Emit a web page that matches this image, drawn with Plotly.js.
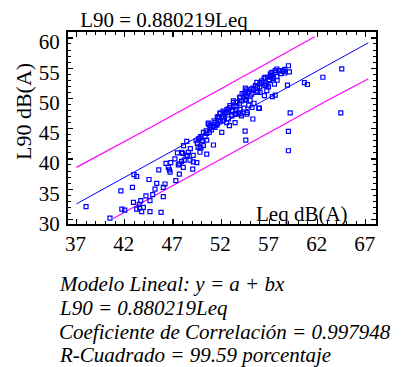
<!DOCTYPE html>
<html>
<head>
<meta charset="utf-8">
<script src="https://cdn.plot.ly/plotly-3.0.1.min.js"></script>
<style>html,body{margin:0;padding:0;background:#fff;}#chart{width:410px;height:367px;}</style>
</head>
<body>
<div id="chart"></div>
<script>
// Observed data: Leq dB(A) (x) vs L90 dB(A) (y)
const leq = [37.99,40.47,41.6,41.7,42.0,42.8,42.9,42.96,43.24,43.24,43.5,43.55,43.66,43.76,43.93,44.2,44.52,44.62,44.62,44.9,
45.14,45.32,45.53,45.77,46.0,46.0,46.18,46.28,46.52,46.63,46.7,46.77,47.2,47.3,47.46,47.56,47.66,47.7,47.9,47.9,
48.0,48.07,48.1,48.17,48.36,48.43,48.5,48.6,48.77,48.8,49.05,49.1,49.1,49.4,49.47,49.53,49.6,49.65,49.8,49.8,
49.8,49.88,49.9,50.0,50.09,50.15,50.5,50.16,50.33,50.43,50.5,50.5,50.67,50.67,50.77,50.85,50.85,51.0,51.2,51.2,
51.26,51.36,51.37,51.53,51.6,51.6,51.7,51.8,51.88,51.9,51.9,52.06,52.06,52.16,52.2,52.23,52.23,52.4,52.4,52.57,
52.58,52.6,52.75,52.75,52.85,52.9,52.9,53.1,53.1,53.1,53.2,53.27,53.27,53.44,53.44,53.44,53.5,53.6,53.62,53.77,
53.8,53.9,53.9,53.94,53.96,53.96,54.1,54.1,54.17,54.35,54.37,54.48,54.48,54.5,54.5,54.55,54.6,54.65,54.65,54.66,
54.7,54.82,54.86,55.0,55.0,55.1,55.17,55.2,55.28,55.3,55.34,55.4,55.55,55.7,55.7,55.76,55.8,55.9,55.96,56.0,
56.0,56.03,56.2,56.2,56.45,56.48,56.55,56.56,56.56,56.73,56.73,56.8,56.9,56.98,57.0,57.1,57.1,57.25,57.25,57.3,
57.4,57.4,57.52,57.6,57.6,57.6,57.77,57.77,57.8,58.0,58.1,58.2,58.4,58.45,58.6,58.6,58.87,58.97,58.97,58.97,
59.07,59.15,60.63,60.94,62.54,64.5,64.4];
const l90 = [32.1,30.2,34.7,31.7,31.55,35.3,32.8,37.4,37.1,31.7,32.5,31.9,33.1,31.3,32.0,33.9,36.6,33.1,31.3,34.1,
35.0,35.95,38.2,31.15,35.3,33.75,35.85,39.25,38.6,38.2,37.8,39.4,40.0,36.4,41.0,39.0,37.5,39.2,39.6,41.1,
40.9,38.6,42.2,39.8,40.4,42.9,40.6,41.1,39.8,41.7,38.3,39.5,40.6,43.0,39.4,42.6,41.9,43.3,43.45,41.1,
42.0,43.7,41.8,43.0,43.0,42.2,40.8,44.4,43.7,44.65,44.2,43.1,45.9,45.75,44.4,45.5,45.2,44.8,42.3,45.4,
46.3,45.2,46.0,45.6,46.9,45.8,47.0,46.8,47.5,46.3,47.6,44.4,47.0,46.3,47.9,46.95,46.6,47.7,47.45,46.0,
47.7,48.2,46.6,48.25,45.5,48.8,48.5,47.1,48.0,47.3,47.9,49.6,49.3,46.0,48.8,47.45,47.4,49.35,48.6,47.5,
47.6,49.2,50.1,48.2,50.2,47.45,47.1,49.6,50.8,48.4,50.6,44.6,49.7,51.0,51.7,43.1,49.85,51.4,50.2,47.4,
47.7,51.1,48.9,49.7,50.4,51.55,50.7,48.5,46.6,51.7,51.4,49.2,52.1,51.0,52.65,51.8,51.2,48.4,48.35,52.4,
51.9,51.0,52.6,52.9,53.3,50.45,52.1,53.5,52.4,51.3,52.2,53.5,51.9,53.1,52.95,54.05,53.8,53.6,54.3,50.3,
53.3,53.4,52.35,54.3,50.55,54.6,54.86,53.6,53.0,54.6,54.6,54.1,54.5,54.5,54.2,54.8,52.2,55.4,44.55,41.35,
54.4,47.6,52.6,52.3,53.5,54.9,47.6];

// Fitted model line (L90 = 0.880219 Leq) and prediction limits
const fitX = [37, 67.26];
const fitY = [32.57, 59.2];
const upperX = [37, 41.2, 44, 52, 58, 61.7];
const upperY = [38.6, 42.2, 44.6, 51.6, 56.95, 60.2];
const lowerX = [40.8, 46, 52, 58, 63, 67.26];
const lowerY = [30.15, 34.75, 40.05, 45.35, 49.65, 53.25];

const xTicks = {tick0: 37, dtick: 5};
const yTicks = {tick0: 30, dtick: 5};

const serif = '"Liberation Serif", "Times New Roman", Times, serif';

const traces = [
  {x: upperX, y: upperY, mode: 'lines', line: {color: '#ff00ff', width: 1.2}, hoverinfo: 'skip'},
  {x: lowerX, y: lowerY, mode: 'lines', line: {color: '#ff00ff', width: 1.2}, hoverinfo: 'skip'},
  {x: fitX, y: fitY, mode: 'lines', line: {color: '#0000ff', width: 1}, hoverinfo: 'skip'},
  {x: leq, y: l90, mode: 'markers', marker: {symbol: 'square-open', size: 4, color: '#0000ff', line: {width: 1.2, color: '#0000ff'}}}
];

const W = 410, H = 367, L = 68, R = 34, T = 32, B = 143;
const pw = W - L - R, ph = H - T - B;
const px = v => (v - L) / pw;
const py = v => (H - B - v) / ph;

const footer = [
  'Modelo Lineal: y = a + bx',
  'L90 = 0.880219Leq',
  'Coeficiente de Correlación = 0.997948',
  'R-Cuadrado = 99.59 porcentaje'
];
const footerY = [284, 308, 332, 355];

const annotations = footer.map((t, i) => ({
  text: '<i>' + t + '</i>', xref: 'paper', yref: 'paper', x: px(57), y: py(footerY[i]),
  xanchor: 'left', yanchor: 'middle', showarrow: false, font: {family: serif, size: 21, color: '#000'}
}));
annotations.push({
  text: 'L90 dB(A)', xref: 'paper', yref: 'paper', x: px(23), y: py(112), textangle: -90,
  xanchor: 'center', yanchor: 'middle', showarrow: false, font: {family: serif, size: 22, color: '#000'}
});
annotations.push({
  text: 'Leq dB(A)', xref: 'paper', yref: 'paper', x: px(302), y: py(214),
  xanchor: 'center', yanchor: 'middle', showarrow: false, font: {family: serif, size: 21, color: '#000'}
});

const layout = {
  width: W, height: H,
  margin: {l: L, r: R, t: T, b: B, pad: 0},
  paper_bgcolor: '#fff', plot_bgcolor: '#fff',
  showlegend: false,
  font: {family: serif, size: 21, color: '#000'},
  title: {text: 'L90 = 0.880219Leq', font: {family: serif, size: 21, color: '#000'},
          xref: 'paper', x: px(164), xanchor: 'center', yref: 'container', y: 1 - 20 / H, yanchor: 'middle'},
  xaxis: {
    range: [36.12, 68.05], tickmode: 'linear', tick0: xTicks.tick0, dtick: xTicks.dtick,
    ticks: 'inside', ticklen: 5, tickwidth: 1.2, tickcolor: '#000',
    minor: {dtick: 1, ticks: 'inside', ticklen: 3, tickwidth: 1, tickcolor: '#000'},
    showline: true, linewidth: 2, linecolor: '#000', mirror: 'ticks',
    showgrid: false, zeroline: false, tickfont: {family: serif, size: 21, color: '#000'},
    ticklabelstandoff: 0, ticklabelshift: -1
  },
  yaxis: {
    range: [29.24, 60.98], tickmode: 'linear', tick0: yTicks.tick0, dtick: yTicks.dtick,
    ticks: 'inside', ticklen: 5, tickwidth: 1.2, tickcolor: '#000',
    minor: {dtick: 1, ticks: 'inside', ticklen: 3, tickwidth: 1, tickcolor: '#000'},
    showline: true, linewidth: 2, linecolor: '#000', mirror: 'ticks',
    showgrid: false, zeroline: false, tickfont: {family: serif, size: 21, color: '#000'},
    ticklabelstandoff: 2, ticklabelshift: 4
  },
  annotations: annotations
};

Plotly.newPlot('chart', traces, layout, {displayModeBar: false, staticPlot: true});
</script>
</body>
</html>
